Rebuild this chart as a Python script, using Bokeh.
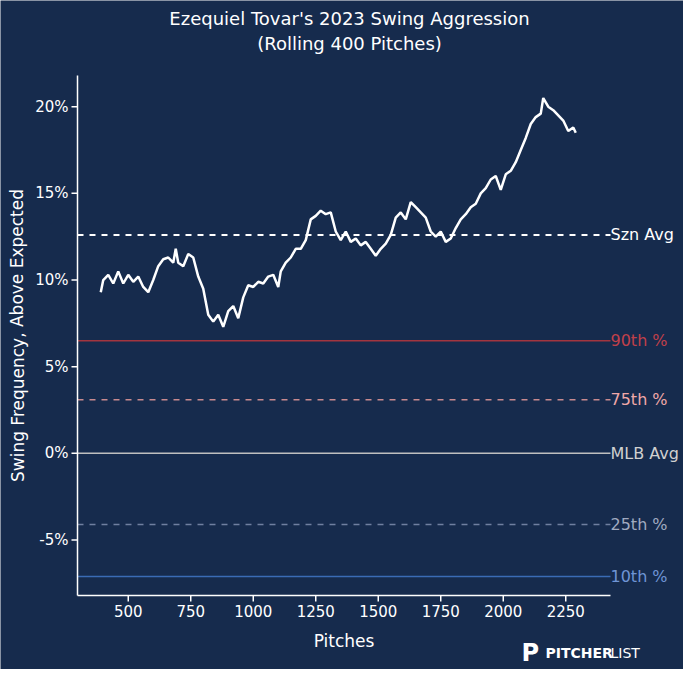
from bokeh.plotting import figure
from bokeh.models import Range1d
from bokeh.core.properties import value
from bokeh.embed import file_html
from bokeh.resources import INLINE

pitches = [390,400,420,440,460,480,500,520,540,560,580,600,620,640,660,680,690,700,720,740,760,780,800,820,840,860,880,900,920,940,960,980,1000,1020,1040,1060,1080,1100,1110,1130,1150,1170,1190,1210,1230,1250,1270,1290,1310,1330,1350,1370,1390,1410,1430,1450,1470,1490,1510,1530,1550,1570,1590,1610,1630,1650,1670,1690,1710,1730,1750,1770,1790,1810,1830,1850,1870,1890,1910,1930,1950,1970,1990,2010,2030,2050,2070,2090,2110,2130,2150,2160,2180,2200,2220,2240,2260,2280,2290]
swing = [9.3,10.0,10.3,9.8,10.5,9.8,10.3,9.9,10.2,9.6,9.3,10.0,10.8,11.2,11.3,11.0,11.8,11.0,10.8,11.5,11.3,10.2,9.5,8.0,7.6,8.0,7.3,8.2,8.5,7.8,9.0,9.7,9.6,9.9,9.8,10.2,10.3,9.6,10.5,11.0,11.3,11.8,11.8,12.3,13.5,13.7,14.0,13.8,13.9,12.8,12.3,12.8,12.2,12.4,12.0,12.2,11.8,11.4,11.8,12.1,12.6,13.6,13.9,13.5,14.5,14.2,13.9,13.6,12.8,12.5,12.8,12.2,12.4,13.0,13.5,13.8,14.2,14.4,15.0,15.3,15.8,16.0,15.2,16.1,16.3,16.8,17.5,18.2,19.0,19.4,19.6,20.5,20.0,19.8,19.5,19.2,18.6,18.8,18.5]

ref_names = ["Szn Avg", "90th %", "75th %", "MLB Avg", "25th %", "10th %"]
ref_values = [12.6, 6.5, 3.1, 0.0, -4.1, -7.1]
ref_colors = ["#ffffff", "#a3353f", "#c88a8f", "#bfbfbf", "#6f7fa0", "#3a6bb5"]
label_colors = ["#ffffff", "#c0404a", "#f0a8a8", "#d0d0d0", "#a0aac0", "#6f95d5"]
ref_dash = ["dashed", "solid", "dashed", "solid", "dashed", "solid"]
x_ticks = [500, 750, 1000, 1250, 1500, 1750, 2000, 2250]
y_ticks = [-5, 0, 5, 10, 15, 20]

BG = "#162B4D"
W, H = 683, 669
BL, BR, BT, BB = 77, 73, 75, 74
X0, X1 = 297, 2429
Y0, Y1 = -8.2, 21.8
sx = (X1 - X0) / (W - BL - BR)
sy = (Y1 - Y0) / (H - BT - BB)
p = figure(width=W, height=H, output_backend="svg", toolbar_location=None,
           x_range=Range1d(X0 - BL * sx, X1 + BR * sx), y_range=Range1d(Y0 - BB * sy, Y1 + BT * sy),
           min_border=0, background_fill_color=BG, border_fill_color=BG, outline_line_color=None)
p.axis.visible = False
p.grid.visible = False
F = value("DejaVu Sans")

xc = X0 + 272 * sx
p.text(x=[xc, xc], y=[Y1 + BT * sy] * 2, text=["Ezequiel Tovar's 2023 Swing Aggression", "(Rolling 400 Pitches)"],
       y_offset=[18, 43], text_align="center", text_baseline="middle", text_color="white", text_font=F, text_font_size="18px")

for nm, v, c, lc, d in zip(ref_names, ref_values, ref_colors, label_colors, ref_dash):
    w = 2 if nm == "Szn Avg" else 1.5
    p.segment(x0=[X0], y0=[v], x1=[X1], y1=[v], line_color=c, line_dash=d, line_width=w)
    p.text(x=[X1], y=[v], text=[nm], text_color=lc, text_font=F, text_font_size="16px", text_baseline="middle")

p.line(pitches, swing, line_color="white", line_width=2.5)

p.segment(x0=[X0, X0], y0=[Y0, Y0], x1=[X1, X0], y1=[Y0, Y1], line_color="white", line_width=1.5)
p.segment(x0=x_ticks, y0=[Y0] * len(x_ticks), x1=x_ticks, y1=[Y0 - 6 * sy] * len(x_ticks), line_color="white", line_width=1.5)
p.text(x=x_ticks, y=[Y0] * len(x_ticks), text=[str(t) for t in x_ticks], y_offset=9, text_align="center",
       text_baseline="top", text_color="white", text_font=F, text_font_size="15px")
p.segment(x0=[X0] * len(y_ticks), y0=y_ticks, x1=[X0 - 6 * sx] * len(y_ticks), y1=y_ticks, line_color="white", line_width=1.5)
p.text(x=[X0] * len(y_ticks), y=y_ticks, text=[f"{t}%" for t in y_ticks], x_offset=-9, text_align="right",
       text_baseline="middle", text_color="white", text_font=F, text_font_size="15px")
p.text(x=[(X0 + X1) / 2], y=[Y0], text=["Pitches"], y_offset=35, text_align="center", text_baseline="top",
       text_color="white", text_font=F, text_font_size="17px")
p.text(x=[X0], y=[(Y0 + Y1) / 2], text=["Swing Frequency, Above Expected"], x_offset=-70, angle=1.5708,
       text_align="center", text_baseline="top", text_color="white", text_font=F, text_font_size="17px")

p.text(x=[X0 + 468 * sx], y=[Y0], text=["PITCHER"], y_offset=57, text_baseline="middle", text_color="white",
       text_font=F, text_font_style="bold", text_font_size="14px")
p.text(x=[X0 + 533 * sx], y=[Y0], text=["LIST"], y_offset=57, text_baseline="middle", text_color="white",
       text_font=F, text_font_size="14px")
p.text(x=[X0 + 444 * sx], y=[Y0], text=["P"], y_offset=57, text_baseline="middle", text_color="white",
       text_font=F, text_font_style="bold", text_font_size="24px")

open("out.html", "w").write(file_html(p, INLINE))
